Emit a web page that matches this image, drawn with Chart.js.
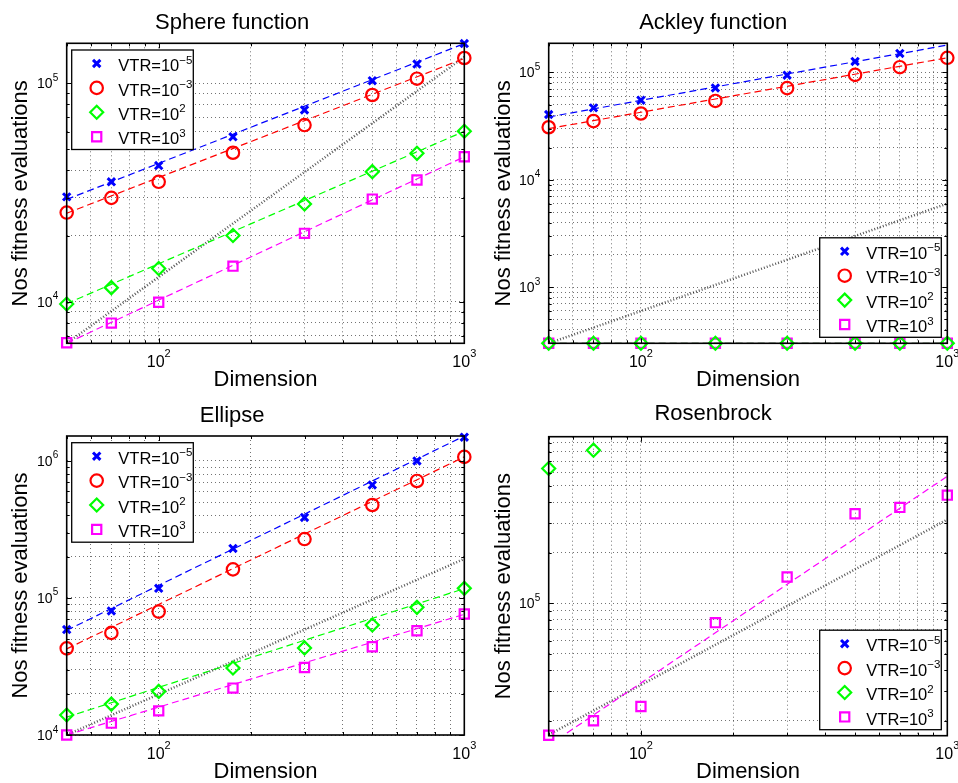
<!DOCTYPE html>
<html>
<head>
<meta charset="utf-8">
<script src="https://cdn.jsdelivr.net/npm/chart.js@4.4.0/dist/chart.umd.min.js"></script>
<style>
  body { margin: 0; background: #fff; }
  #wrap { position: relative; width: 958px; height: 783px; overflow: hidden; }
  canvas { position: absolute; }
</style>
</head>
<body>
<div id="wrap">
  <canvas id="sphere" width="479" height="392" style="left:0;top:0"></canvas>
  <canvas id="ackley" width="479" height="392" style="left:479px;top:0"></canvas>
  <canvas id="ellipse" width="479" height="391" style="left:0;top:392px"></canvas>
  <canvas id="rosen" width="479" height="391" style="left:479px;top:392px"></canvas>
</div>
<script>
var FONT = '"Liberation Sans", Arial, Helvetica, sans-serif';

// problem dimensions (x axis) and fit line end points
var dims = [50, 70, 100, 175, 300, 500, 700, 1000];
var fitDims = [50, 1000];
var xLabelTicks = [100, 1000];
var vtrLabels = [['VTR=10', '\u22125'], ['VTR=10', '\u22123'], ['VTR=10', '2'], ['VTR=10', '3']];

// Sphere function
var sphereBlue = [30200, 35400, 42000, 56900, 75500, 102800, 122500, 152000];
var sphereRed = [25600, 29900, 35400, 48100, 64400, 88400, 105000, 130600];
var sphereGreen = [9760, 11600, 14200, 20100, 28000, 39400, 47800, 60300];
var sphereMagenta = [6490, 7980, 9950, 14550, 20560, 29500, 36100, 46100];
var sphereFitBlue = [29400, 152000];
var sphereFitRed = [25400, 130000];
var sphereFitGreen = [9800, 60300];
var sphereFitMagenta = [6450, 46100];
var sphereRef = [6450, 132000];
var sphereYTicks = [1e4, 1e5];

// Ackley function
var ackleyBlue = [40600, 46800, 55200, 71800, 94400, 126700, 150400, null];
var ackleyRed = [30900, 35200, 41500, 54300, 71500, 95000, 112000, 137000];
var ackleyGreen = [300, 300, 300, 300, 300, 300, 300, 300];
var ackleyMagenta = [300, 300, 300, 300, 300, 300, 300, 300];
var ackleyFitBlue = [38500, 180000];
var ackleyFitRed = [30000, 137000];
var ackleyFitGreen = [300, 300];
var ackleyFitMagenta = [300, 300];
var ackleyRef = [300, 6000];
var ackleyYTicks = [1e3, 1e4, 1e5];

// Ellipse
var ellipseBlue = [58800, 80400, 117500, 230000, 387000, 668000, 1000000, 1490000];
var ellipseRed = [42900, 55600, 79500, 161700, 269000, 477000, 714000, 1070000];
var ellipseGreen = [14000, 16800, 20800, 30800, 43200, 63500, 85400, 117500];
var ellipseMagenta = [10000, 12200, 15000, 22000, 31100, 44100, 57700, 76400];
var ellipseFitBlue = [58000, 1520000];
var ellipseFitRed = [42500, 1070000];
var ellipseFitGreen = [13500, 117000];
var ellipseFitMagenta = [10000, 76000];
var ellipseRef = [10000, 193000];
var ellipseYTicks = [1e4, 1e5, 1e6];

// Rosenbrock
var rosenBlue = [null, null, null, null, null, null, null, null];
var rosenRed = [null, null, null, null, null, null, null, null];
var rosenGreen = [634000, 815000, null, null, null, null, null, null];
var rosenMagenta = [16400, 20000, 24300, 76700, 143400, 341000, 372000, 440000];
var rosenFitMagenta = [14300, 570000];
var rosenRef = [16500, 315000];
var rosenYTicks = [1e5];

var seriesStyle = [
  { color: '#0000ff', pointStyle: 'crossRot', radius: 5.2, width: 3 },
  { color: '#ff0000', pointStyle: 'circle', radius: 6.2, width: 2.2 },
  { color: '#00ff00', pointStyle: 'rectRot', radius: 6.5, width: 2.2 },
  { color: '#ff00ff', pointStyle: 'rect', radius: 6.5, width: 2.2 }
];

function pts(xs, ys) {
  return xs.map(function (x, i) { return { x: x, y: ys[i] }; });
}

function isDecade(v) {
  var l = Math.log10(v);
  return Math.abs(l - Math.round(l)) < 1e-9;
}

// 1..9 x 10^k grid positions inside [min, max]
function logTicks(min, max) {
  var out = [];
  for (var e = Math.floor(Math.log10(min)); e <= Math.ceil(Math.log10(max)); e++) {
    for (var m = 1; m < 10; m++) {
      var v = m * Math.pow(10, e);
      if (v >= min * 0.999 && v <= max * 1.001) out.push(v);
    }
  }
  return out;
}

function marker(ctx, st, x, y) {
  var r = st.radius, d;
  ctx.beginPath();
  if (st.pointStyle === 'circle') {
    ctx.arc(x, y, r, 0, Math.PI * 2);
  } else if (st.pointStyle === 'crossRot') {
    d = r * Math.SQRT1_2;
    ctx.moveTo(x - d, y - d); ctx.lineTo(x + d, y + d);
    ctx.moveTo(x + d, y - d); ctx.lineTo(x - d, y + d);
  } else if (st.pointStyle === 'rectRot') {
    ctx.moveTo(x, y - r); ctx.lineTo(x + r, y); ctx.lineTo(x, y + r); ctx.lineTo(x - r, y);
    ctx.closePath();
  } else {
    d = r * Math.SQRT1_2;
    ctx.rect(x - d, y - d, 2 * d, 2 * d);
  }
  ctx.stroke();
}

function makeChart(id, title, series, fits, ref, yMin, yMax, yTicks, corner, lay) {
  var datasets = [];
  series.forEach(function (s, i) {
    var st = seriesStyle[i];
    datasets.push({
      data: pts(dims, s), showLine: false, clip: false,
      pointStyle: st.pointStyle, pointRadius: st.radius, pointBorderWidth: st.width,
      pointBorderColor: st.color, pointBackgroundColor: 'rgba(0,0,0,0)', borderColor: st.color
    });
  });
  fits.forEach(function (f, i) {
    if (!f) return;
    datasets.push({
      data: pts(fitDims, f), borderColor: seriesStyle[i].color, borderWidth: 1.2,
      borderDash: [7, 4], pointRadius: 0, fill: false
    });
  });
  datasets.push({
    data: pts(fitDims, ref), borderColor: 'rgba(30,30,30,0.75)', borderWidth: 2.5,
    borderDash: [1, 2], pointRadius: 0, fill: false
  });

  var look = {
    id: 'matlabLook',
    afterDraw: function (chart) {
      var ctx = chart.ctx, a = chart.chartArea, xs = chart.scales.x, ys = chart.scales.y;
      ctx.save();
      ctx.setLineDash([]);
      // inward tick marks on all four sides
      ctx.strokeStyle = '#000';
      ctx.lineWidth = 1;
      ctx.beginPath();
      xs.ticks.forEach(function (t) {
        var p = Math.round(xs.getPixelForValue(t.value)) + 0.5, l = isDecade(t.value) ? 5 : 3;
        ctx.moveTo(p, a.bottom); ctx.lineTo(p, a.bottom - l);
        ctx.moveTo(p, a.top); ctx.lineTo(p, a.top + l);
      });
      ys.ticks.forEach(function (t) {
        var p = Math.round(ys.getPixelForValue(t.value)) + 0.5, l = isDecade(t.value) ? 5 : 3;
        ctx.moveTo(a.left, p); ctx.lineTo(a.left + l, p);
        ctx.moveTo(a.right, p); ctx.lineTo(a.right - l, p);
      });
      ctx.stroke();
      ctx.lineWidth = 1.6;
      ctx.strokeRect(a.left, a.top, a.right - a.left, a.bottom - a.top);

      // tick labels with superscript exponents
      ctx.fillStyle = '#000';
      ctx.textBaseline = 'alphabetic';
      xLabelTicks.forEach(function (v) {
        var p = xs.getPixelForValue(v), e = String(Math.round(Math.log10(v)));
        ctx.font = '16px ' + FONT; var wb = ctx.measureText('10').width;
        ctx.font = '11px ' + FONT; var we = ctx.measureText(e).width;
        var x0 = p - (wb + we) / 2;
        ctx.textAlign = 'left';
        ctx.font = '16px ' + FONT; ctx.fillText('10', x0, a.bottom + 23.5);
        ctx.font = '11px ' + FONT; ctx.fillText(e, x0 + wb, a.bottom + 13.5);
      });
      yTicks.forEach(function (v) {
        var p = ys.getPixelForValue(v), e = String(Math.round(Math.log10(v)));
        var r = a.left - 8.5;
        ctx.textAlign = 'right';
        ctx.font = '10px ' + FONT; var we = ctx.measureText(e).width;
        ctx.fillText(e, r, p - 2.5);
        ctx.font = '14px ' + FONT; ctx.fillText('10', r - we, p + 5);
      });

      // legend box inside the axes
      var bw = 121.6, bh = 99.5;
      var bx = corner === 'nw' ? a.left + 5 : a.right - 6 - bw;
      var by = corner === 'nw' ? a.top + 6.7 : a.bottom - 6 - bh;
      ctx.fillStyle = '#fff';
      ctx.fillRect(bx, by, bw, bh);
      ctx.strokeStyle = '#000';
      ctx.lineWidth = 1.3;
      ctx.strokeRect(bx, by, bw, bh);
      vtrLabels.forEach(function (lab, i) {
        var cy = by + 13.5 + i * 24.4, st = seriesStyle[i];
        ctx.strokeStyle = st.color;
        ctx.lineWidth = st.width;
        marker(ctx, st, bx + 25, cy);
        ctx.fillStyle = '#000';
        ctx.textAlign = 'left';
        ctx.font = '16.5px ' + FONT;
        ctx.fillText(lab[0], bx + 46.6, cy + 7.6);
        var w = ctx.measureText(lab[0]).width;
        ctx.font = '11.5px ' + FONT;
        ctx.fillText(lab[1], bx + 46.6 + w, cy);
      });
      ctx.restore();
    }
  };

  var gridOpts = { color: 'rgba(0,0,0,0.55)', lineWidth: 1, drawTicks: false };
  return new Chart(document.getElementById(id), {
    type: 'line',
    data: { datasets: datasets },
    options: {
      responsive: false,
      animation: false,
      devicePixelRatio: 1,
      layout: { padding: { left: 0, top: 0, right: lay.right, bottom: 0 } },
      plugins: {
        legend: { display: false },
        tooltip: { enabled: false },
        title: {
          display: true, text: title, color: '#000',
          font: { family: FONT, size: 22, weight: 'normal', lineHeight: 1.2 },
          padding: { top: lay.titleTop, bottom: lay.titleBottom }
        }
      },
      scales: {
        x: {
          type: 'logarithmic', min: 50, max: 1000,
          afterBuildTicks: function (s) { s.ticks = logTicks(50, 1000).map(function (v) { return { value: v }; }); },
          afterFit: function (s) { s.height = lay.xHeight; },
          ticks: { display: false },
          grid: gridOpts,
          border: { display: false, dash: [1, 3] },
          title: {
            display: true, text: 'Dimension', color: '#000',
            font: { family: FONT, size: 22, weight: 'normal', lineHeight: 1 },
            padding: { top: 0, bottom: lay.xTitlePad }
          }
        },
        y: {
          type: 'logarithmic', min: yMin, max: yMax,
          afterBuildTicks: function (s) { s.ticks = logTicks(yMin, yMax).map(function (v) { return { value: v }; }); },
          afterFit: function (s) { s.width = lay.left; },
          ticks: { display: false },
          grid: gridOpts,
          border: { display: false, dash: [1, 3] },
          title: {
            display: true, text: 'Nos fitness evaluations', color: '#000',
            font: { family: FONT, size: 22, weight: 'normal', lineHeight: 1 },
            padding: { top: lay.yTitlePad, bottom: 0 }
          }
        }
      }
    },
    plugins: [look]
  });
}

makeChart('sphere', 'Sphere function',
  [sphereBlue, sphereRed, sphereGreen, sphereMagenta],
  [sphereFitBlue, sphereFitRed, sphereFitGreen, sphereFitMagenta], sphereRef,
  6450, 152500, sphereYTicks, 'nw',
  { left: 66.7, right: 14.7, xHeight: 48.7, titleTop: 9.5, titleBottom: 7.4, xTitlePad: 1, yTitlePad: 9.7 });

makeChart('ackley', 'Ackley function',
  [ackleyBlue, ackleyRed, ackleyGreen, ackleyMagenta],
  [ackleyFitBlue, ackleyFitRed, ackleyFitGreen, ackleyFitMagenta], ackleyRef,
  300, 187000, ackleyYTicks, 'se',
  { left: 69.7, right: 10.7, xHeight: 48.7, titleTop: 9.8, titleBottom: 7.1, xTitlePad: 1, yTitlePad: 14 });

makeChart('ellipse', 'Ellipse',
  [ellipseBlue, ellipseRed, ellipseGreen, ellipseMagenta],
  [ellipseFitBlue, ellipseFitRed, ellipseFitGreen, ellipseFitMagenta], ellipseRef,
  10000, 1520000, ellipseYTicks, 'nw',
  { left: 66.7, right: 14.7, xHeight: 48, titleTop: 10.5, titleBottom: 7.1, xTitlePad: 0, yTitlePad: 9.8 });

makeChart('rosen', 'Rosenbrock',
  [rosenBlue, rosenRed, rosenGreen, rosenMagenta],
  [null, null, null, rosenFitMagenta], rosenRef,
  16300, 980000, rosenYTicks, 'se',
  { left: 69.7, right: 10.7, xHeight: 47.3, titleTop: 8.8, titleBottom: 9.5, xTitlePad: 0, yTitlePad: 14 });
</script>
</body>
</html>
